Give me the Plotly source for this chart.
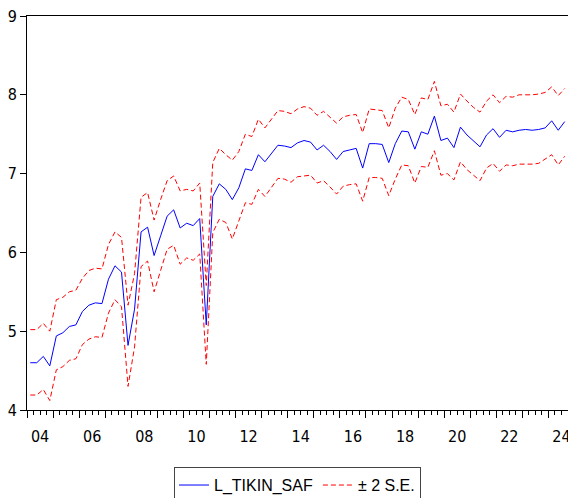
import plotly.graph_objects as go

start_year = 2004
forecast = [4.60, 4.60, 4.68, 4.56, 4.94, 4.98, 5.06, 5.08, 5.25, 5.33, 5.36, 5.35,
            5.66, 5.83, 5.75, 4.82, 5.28, 6.26, 6.32, 5.96, 6.21, 6.46, 6.54, 6.31,
            6.37, 6.34, 6.43, 5.08, 6.71, 6.87, 6.80, 6.67, 6.82, 7.06, 7.04, 7.24,
            7.15, 7.26, 7.36, 7.35, 7.33, 7.39, 7.42, 7.40, 7.30, 7.36, 7.28, 7.18,
            7.28, 7.30, 7.32, 7.07, 7.38, 7.38, 7.37, 7.14, 7.38, 7.54, 7.53, 7.31,
            7.53, 7.50, 7.73, 7.42, 7.45, 7.33, 7.59, 7.49, 7.42, 7.34, 7.49, 7.57,
            7.46, 7.55, 7.53, 7.55, 7.56, 7.55, 7.56, 7.58, 7.67, 7.55, 7.66]
upper = [5.02, 5.02, 5.10, 5.00, 5.40, 5.43, 5.50, 5.52, 5.67, 5.77, 5.80, 5.79,
         6.10, 6.26, 6.19, 5.33, 5.73, 6.70, 6.76, 6.41, 6.67, 6.91, 6.97, 6.78,
         6.80, 6.78, 6.88, 5.58, 7.14, 7.32, 7.24, 7.17, 7.28, 7.50, 7.47, 7.69,
         7.58, 7.69, 7.80, 7.79, 7.76, 7.82, 7.85, 7.83, 7.74, 7.79, 7.72, 7.64,
         7.72, 7.74, 7.75, 7.52, 7.82, 7.81, 7.80, 7.58, 7.83, 7.97, 7.94, 7.75,
         7.96, 7.94, 8.17, 7.86, 7.88, 7.78, 8.01, 7.92, 7.84, 7.78, 7.92, 8.00,
         7.90, 7.98, 7.97, 8.00, 8.00, 8.00, 8.01, 8.03, 8.10, 7.99, 8.08]
lower = [4.19, 4.19, 4.26, 4.12, 4.51, 4.55, 4.63, 4.65, 4.83, 4.90, 4.93, 4.92,
         5.23, 5.40, 5.31, 4.30, 4.80, 5.82, 5.89, 5.50, 5.77, 6.04, 6.09, 5.85,
         5.93, 5.90, 5.98, 4.58, 6.25, 6.42, 6.38, 6.17, 6.40, 6.63, 6.61, 6.80,
         6.71, 6.82, 6.94, 6.93, 6.89, 6.96, 6.97, 6.98, 6.88, 6.91, 6.83, 6.74,
         6.84, 6.86, 6.87, 6.65, 6.95, 6.95, 6.94, 6.72, 6.93, 7.11, 7.10, 6.88,
         7.09, 7.08, 7.29, 6.98, 7.00, 6.92, 7.15, 7.05, 6.98, 6.91, 7.07, 7.13,
         7.03, 7.11, 7.10, 7.12, 7.12, 7.12, 7.13, 7.18, 7.24, 7.11, 7.22]
year_labels = ["04", "06", "08", "10", "12", "14", "16", "18", "20", "22", "24"]
y_ticks = [4, 5, 6, 7, 8, 9]

# quarterly observations plotted at the middle of each quarter
x = [start_year + i / 4 + 0.125 for i in range(len(forecast))]
label_pos = [start_year + 2 * k + 0.5 for k in range(len(year_labels))]
year_ticks = list(range(start_year, 2025))

FONT = "DejaVu Sans Condensed, Liberation Sans, Arial, sans-serif"
LEG_FONT = "Liberation Sans, Arial, sans-serif"

fig = go.Figure()
fig.add_trace(go.Scatter(x=x, y=forecast, mode="lines", name="L_TIKIN_SAF",
                         line=dict(color="#0000ff", width=1)))
fig.add_trace(go.Scatter(x=x, y=upper, mode="lines", name="± 2 S.E.",
                         line=dict(color="#ff0000", width=1, dash="5px,3px"),
                         legendgroup="se"))
fig.add_trace(go.Scatter(x=x, y=lower, mode="lines", name="± 2 S.E.", showlegend=False,
                         line=dict(color="#ff0000", width=1, dash="5px,3px"),
                         legendgroup="se"))

xr = [2004, 2024.75]
fig.update_layout(
    width=568, height=498,
    margin=dict(l=27, r=0, t=16, b=88, autoexpand=False),
    paper_bgcolor="white", plot_bgcolor="white",
    font=dict(family=FONT, size=16, color="black"),
    showlegend=True,
    legend=dict(orientation="h", x=0.5, xanchor="center", y=-0.145, yanchor="top",
                bordercolor="#444444", borderwidth=1,
                font=dict(family=LEG_FONT, size=16),
                itemwidth=30, tracegroupgap=0),
    xaxis=dict(range=xr, showgrid=False, zeroline=False, showline=True,
               linecolor="black", linewidth=1, mirror=True, automargin=False,
               tickmode="array", tickvals=year_ticks, showticklabels=False,
               ticks="outside", ticklen=7, tickcolor="black",
               minor=dict(dtick=0.25, tick0=2004, ticks="outside", ticklen=4,
                          tickcolor="black", showgrid=False)),
    xaxis2=dict(range=xr, overlaying="x", side="bottom", anchor="y", automargin=False,
                showgrid=False, zeroline=False, showline=False,
                tickmode="array", tickvals=label_pos, ticktext=year_labels,
                ticks="outside", ticklen=12, tickcolor="rgba(0,0,0,0)",
                ticklabeloverflow="allow",
                tickfont=dict(family=FONT, size=16)),
    yaxis=dict(range=[4, 9], showgrid=False, zeroline=False, showline=True,
               linecolor="black", linewidth=1, automargin=False,
               tickmode="array", tickvals=y_ticks, ticklabeloverflow="allow",
               ticks="outside", ticklen=6, tickcolor="black",
               tickfont=dict(family=FONT, size=16)),
)
fig.add_trace(go.Scatter(x=[], y=[], xaxis="x2", showlegend=False, hoverinfo="skip"))

fig.write_html("out.html", config={"displayModeBar": False},
               post_script="document.body.style.margin='0';document.body.style.overflow='hidden';")
